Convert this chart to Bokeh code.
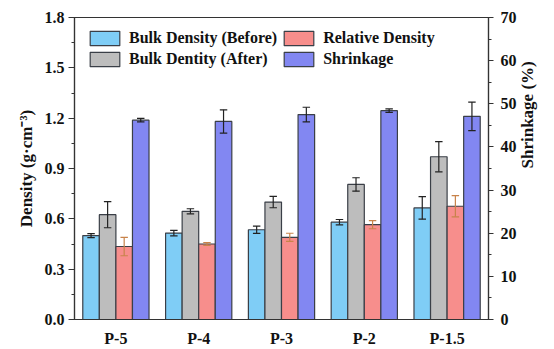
import math
from bokeh.plotting import figure
from bokeh.models import (ColumnDataSource, FactorRange, Range1d, LinearAxis,
                          SingleIntervalTicker, NumeralTickFormatter, Legend, LegendItem)
from bokeh.transform import dodge
from bokeh.embed import file_html
from bokeh.resources import INLINE

categories = ["P-5", "P-4", "P-3", "P-2", "P-1.5"]
bulk_before = [0.50, 0.515, 0.535, 0.58, 0.665]
bulk_before_err = [0.012, 0.016, 0.022, 0.016, 0.067]
bulk_after = [0.625, 0.645, 0.70, 0.805, 0.97]
bulk_after_err = [0.078, 0.015, 0.034, 0.04, 0.09]
relative = [0.435, 0.45, 0.49, 0.565, 0.675]
relative_err = [0.055, 0.008, 0.024, 0.024, 0.063]
shrinkage = [46.2, 45.9, 47.5, 48.4, 47.1]
shrinkage_err = [0.4, 2.7, 1.7, 0.4, 3.3]

FONT = "Liberation Serif"
C_BEFORE = "#7fcdf6"
C_AFTER = "#bdbdbd"
C_REL = "#f78e8c"
C_SHR = "#8287f2"
EDGE = "#3a3f47"

src = ColumnDataSource(dict(
    cat=categories,
    before=bulk_before, before_lo=[v - e for v, e in zip(bulk_before, bulk_before_err)],
    before_hi=[v + e for v, e in zip(bulk_before, bulk_before_err)],
    after=bulk_after, after_lo=[v - e for v, e in zip(bulk_after, bulk_after_err)],
    after_hi=[v + e for v, e in zip(bulk_after, bulk_after_err)],
    rel=relative, rel_lo=[v - e for v, e in zip(relative, relative_err)],
    rel_hi=[v + e for v, e in zip(relative, relative_err)],
    shr=shrinkage, shr_lo=[v - e for v, e in zip(shrinkage, shrinkage_err)],
    shr_hi=[v + e for v, e in zip(shrinkage, shrinkage_err)],
))

p = figure(width=554, height=349, x_range=FactorRange(*categories, range_padding=0),
           y_range=Range1d(0, 1.8), output_backend="svg", toolbar_location=None,
           min_border_left=74, min_border_right=66, min_border_top=17, min_border_bottom=28)
p.extra_y_ranges = {"shr": Range1d(0, 70)}

p.grid.visible = False
p.outline_line_color = "#333333"
p.outline_line_width = 1.2

W = 0.2
r1 = p.vbar(x=dodge("cat", -0.3, range=p.x_range), top="before", width=W, source=src,
            fill_color=C_BEFORE, line_color=EDGE, line_width=1.2)
r2 = p.vbar(x=dodge("cat", -0.1, range=p.x_range), top="after", width=W, source=src,
            fill_color=C_AFTER, line_color=EDGE, line_width=1.2)
r3 = p.vbar(x=dodge("cat", 0.1, range=p.x_range), top="rel", width=W, source=src,
            fill_color=C_REL, line_color=EDGE, line_width=1.2)
r4 = p.vbar(x=dodge("cat", 0.3, range=p.x_range), top="shr", width=W, source=src,
            fill_color=C_SHR, line_color=EDGE, line_width=1.2, y_range_name="shr")

def errbar(off, lo, hi, color, yname="default"):
    cap = 0.045
    kw = dict(source=src, line_color=color, line_width=1.2, y_range_name=yname)
    p.segment(x0=dodge("cat", off, range=p.x_range), y0=lo,
              x1=dodge("cat", off, range=p.x_range), y1=hi, **kw)
    for y in (lo, hi):
        p.segment(x0=dodge("cat", off - cap, range=p.x_range), y0=y,
                  x1=dodge("cat", off + cap, range=p.x_range), y1=y, **kw)

errbar(-0.3, "before_lo", "before_hi", "#222222")
errbar(-0.1, "after_lo", "after_hi", "#222222")
errbar(0.1, "rel_lo", "rel_hi", "#c8834a")
errbar(0.3, "shr_lo", "shr_hi", "#222222", "shr")

# Left axis
ya = p.yaxis[0]
ya.ticker = SingleIntervalTicker(interval=0.3, num_minor_ticks=2)
ya.formatter = NumeralTickFormatter(format="0.0")
ya.axis_label = "Density (g·cm⁻³)"

# Right axis
ra = LinearAxis(y_range_name="shr", axis_label="Shrinkage (%)",
                ticker=SingleIntervalTicker(interval=10, num_minor_ticks=2))
p.add_layout(ra, "right")
ra.axis_label_orientation = math.pi / 2

for ax in [ya, ra]:
    ax.major_tick_out = 6
    ax.major_tick_in = 0
    ax.minor_tick_out = 3
    ax.minor_tick_in = 0
    ax.axis_line_width = 1.2
    ax.axis_line_color = "#333333"
    ax.major_tick_line_color = "#333333"
    ax.minor_tick_line_color = "#333333"

xa = p.xaxis[0]
xa.major_tick_line_color = None
xa.minor_tick_line_color = None
xa.axis_line_width = 1.2
xa.axis_line_color = "#333333"

for ax in [ya, ra, xa]:
    ax.major_label_text_font = FONT
    ax.major_label_text_font_style = "bold"
    ax.major_label_text_font_size = "16px"
    ax.major_label_text_color = "#111111"
    ax.axis_label_text_font = FONT
    ax.axis_label_text_font_style = "bold"
    ax.axis_label_text_font_size = "17px"
    ax.axis_label_text_color = "#111111"
    ax.major_label_standoff = 4

ya.axis_label_standoff = 6
ra.major_tick_out = 5
ra.major_label_standoff = 7
ra.axis_label_standoff = 8

legend = Legend(items=[
    LegendItem(label="Bulk Density (Before)", renderers=[r1]),
    LegendItem(label="Relative Density", renderers=[r3]),
    LegendItem(label="Bulk Dentity (After)", renderers=[r2]),
    LegendItem(label="Shrinkage", renderers=[r4]),
], location="top_left", orientation="horizontal", ncols=2)
legend.glyph_width = 37
legend.glyph_height = 18
legend.label_text_font = FONT
legend.label_text_font_style = "bold"
legend.label_text_font_size = "16px"
legend.label_text_color = "#111111"
legend.label_standoff = 6
legend.spacing = 3
legend.padding = 0
legend.margin = 12
legend.border_line_alpha = 0
legend.background_fill_alpha = 0
p.add_layout(legend, "center")

open("out.html", "w").write(file_html(p, INLINE))
